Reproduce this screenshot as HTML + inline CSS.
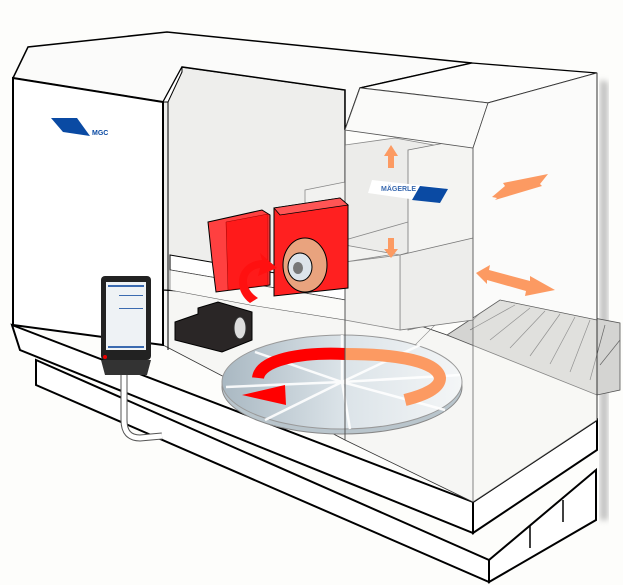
<!DOCTYPE html>
<html><head><meta charset="utf-8"><style>
html,body{margin:0;padding:0;background:#fdfdfb;}
svg{display:block}
text{font-family:"Liberation Sans",sans-serif;}
</style></head><body>
<svg width="623" height="585" viewBox="0 0 623 585" xmlns="http://www.w3.org/2000/svg">
<defs>
<linearGradient id="tt" x1="0" x2="1"><stop offset="0" stop-color="#a9b8c2"/><stop offset="0.5" stop-color="#dbe3e8"/><stop offset="1" stop-color="#f4f6f7"/></linearGradient>
<filter id="sh"><feGaussianBlur stdDeviation="3"/></filter>
</defs>
<rect width="623" height="585" fill="#fdfdfb"/>
<polygon points="600,80 608,82 608,520 600,520" fill="#999" filter="url(#sh)" opacity="0.6"/>
<polygon points="36,360 489,560 489,582 36,385" fill="#fff" stroke="#000" stroke-width="2"/>
<polygon points="489,560 596,470 596,520 489,582" fill="#fff" stroke="#000" stroke-width="2"/>
<line x1="530" y1="525" x2="530" y2="548" stroke="#000" stroke-width="1.5"/>
<line x1="563" y1="500" x2="563" y2="522" stroke="#000" stroke-width="1.5"/>
<polygon points="12,325 473,502 473,533 20,350" fill="#fff" stroke="#000" stroke-width="2"/>
<polygon points="473,502 597,420 597,450 473,533" fill="#fff" stroke="#000" stroke-width="2"/>
<polygon points="163,345 345,440 473,502 597,420 597,390 447,335 345,300 163,290" fill="#f6f6f4" stroke="#333" stroke-width="0.8"/>
<line x1="345" y1="415" x2="470" y2="290" stroke="#888" stroke-width="0.6"/>
<polygon points="447,335 500,300 620,323 620,390 597,395" fill="#d4d4d2" stroke="#555" stroke-width="0.8"/>
<g stroke="#666" stroke-width="0.7">
<line x1="470" y1="330" x2="515" y2="305"/><line x1="490" y1="340" x2="530" y2="308"/><line x1="510" y1="348" x2="545" y2="311"/><line x1="530" y1="356" x2="560" y2="314"/><line x1="550" y1="364" x2="575" y2="317"/><line x1="570" y1="372" x2="590" y2="320"/><line x1="590" y1="380" x2="605" y2="325"/><line x1="600" y1="365" x2="620" y2="340"/>
</g>
<polygon points="163,102 182,67 345,90 345,300 163,290" fill="#eeeeec" stroke="#000" stroke-width="1.2"/>
<polygon points="170,255 345,285 345,300 170,270" fill="#fff" stroke="#000" stroke-width="1"/>
<polygon points="170,270 345,300 345,320 250,305 170,290" fill="#fafaf8" stroke="#555" stroke-width="0.6"/>
<polygon points="13,78 28,47 167,32 472,63 360,88 345,130 345,90 182,67 163,102" fill="#fbfbfa" stroke="#000" stroke-width="1.5"/>
<polygon points="13,78 163,102 163,345 13,325" fill="#fff" stroke="#000" stroke-width="2"/>
<polygon points="163,102 182,67 182,72 168,102" fill="#fff" stroke="#000" stroke-width="1"/>
<line x1="168" y1="102" x2="168" y2="350" stroke="#000" stroke-width="1"/>
<polygon points="51,118 77,118 90,136 63,132" fill="#0a4aa3"/>
<text x="92" y="135" font-size="7" font-weight="bold" fill="#0a4aa3">MGC</text>
<polygon points="305,190 345,182 420,190 420,250 345,262 305,255" fill="#f2f2f0" stroke="#888" stroke-width="0.8"/>
<polygon points="345,145 395,138 450,148 450,240 400,255 345,245" fill="#ececea" stroke="#888" stroke-width="0.8"/>
<polygon points="408,150 450,142 473,148 473,315 408,330" fill="#f4f4f2" stroke="#777" stroke-width="0.8"/>
<polygon points="400,255 473,238 498,220 498,295 473,320 400,330" fill="#ededeb" stroke="#777" stroke-width="0.8"/>
<polygon points="345,262 400,255 400,330 345,320" fill="#f0f0ee" stroke="#888" stroke-width="0.8"/>
<line x1="345" y1="240" x2="408" y2="222" stroke="#888" stroke-width="0.8"/>
<polygon points="372,180 445,188 438,203 368,193" fill="#fff"/>
<polygon points="420,186 448,189 440,203 412,200" fill="#0a4aa3"/>
<text x="381" y="191" font-size="7" fill="#3a6ab0" font-weight="bold">MÄGERLE</text>
<polygon points="360,88 472,63 597,73 488,103" fill="#fdfdfc" stroke="#000" stroke-width="1.3"/>
<polygon points="345,130 360,88 488,103 473,148" fill="#fafaf9" stroke="#555" stroke-width="0.8"/>
<polygon points="488,103 597,73 597,320 500,300 473,318 473,148" fill="#fbfbfa" stroke="#444" stroke-width="0.8"/>
<polygon points="473,318 500,300 597,320 597,420 473,502" fill="#fbfbfa" fill-opacity="0.3"/>
<line x1="597" y1="73" x2="597" y2="420" stroke="#333" stroke-width="1"/>
<line x1="345" y1="130" x2="345" y2="440" stroke="#555" stroke-width="1"/>
<line x1="473" y1="148" x2="473" y2="502" stroke="#666" stroke-width="0.8"/>
<g fill="#fc9a62">
<polygon points="391,145 398,156 394,156 394,168 388,168 388,156 384,156"/>
<polygon points="388,238 394,238 394,249 398,249 391,258 384,249 388,249"/>
<polygon points="492,197 505,186 503,183 548,174 540,184 542,186 495,200 497,198"/>
<polygon points="476,273 490,265 489,270 530,281 530,276 555,290 525,296 526,291 487,280 487,284"/>
</g>
<polygon points="208,222 262,210 270,215 270,285 216,292 212,260" fill="#ff4040" stroke="#000" stroke-width="1"/>
<polygon points="226,222 268,214 268,285 228,290" fill="#ff1a1a" stroke="#900" stroke-width="0.5"/>
<polygon points="274,208 340,198 348,205 348,288 274,296" fill="#ff2020" stroke="#000" stroke-width="1"/>
<polygon points="274,208 340,198 348,205 280,215" fill="#ff5555" stroke="#000" stroke-width="0.8"/>
<ellipse cx="305" cy="265" rx="22" ry="27" fill="#e9a37e" stroke="#000" stroke-width="1"/>
<ellipse cx="300" cy="267" rx="12" ry="14" fill="#dde4ea" stroke="#000" stroke-width="1"/>
<ellipse cx="298" cy="268" rx="5" ry="6" fill="#777"/>
<path d="M250,303 C232,290 236,262 262,260 L260,253 L277,268 L258,276 L260,268 C244,270 242,288 258,298 Z" fill="#ff1010"/>
<polygon points="175,322 198,314 198,308 218,302 252,312 252,340 222,352 175,340" fill="#2a2626" stroke="#000" stroke-width="1"/>
<ellipse cx="240" cy="328" rx="6" ry="11" fill="#ddd" stroke="#333"/>
<ellipse cx="342" cy="387" rx="120" ry="47" fill="#b9c5cc" stroke="#888"/>
<ellipse cx="342" cy="382" rx="120" ry="47" fill="url(#tt)" stroke="#999"/>
<g stroke="#fff" stroke-width="2.5" opacity="0.9">
<line x1="342" y1="382" x2="342" y2="335"/><line x1="342" y1="382" x2="255" y2="352"/><line x1="342" y1="382" x2="226" y2="387"/><line x1="342" y1="382" x2="265" y2="420"/><line x1="342" y1="382" x2="350" y2="429"/><line x1="342" y1="382" x2="445" y2="410"/><line x1="342" y1="382" x2="460" y2="375"/><line x1="342" y1="382" x2="420" y2="345"/>
</g>
<path d="M345,354 C300,352 260,360 258,378" fill="none" stroke="#ff0000" stroke-width="12"/>
<polygon points="242,395 285,385 286,405" fill="#ff0000"/>
<path d="M345,354 C400,354 438,362 440,378 C440,388 425,395 405,400" fill="none" stroke="#fc9a62" stroke-width="12"/>
<line x1="345" y1="330" x2="345" y2="440" stroke="#555" stroke-width="1"/>
<path d="M124,375 L124,420 Q124,438 140,438 L162,436" fill="none" stroke="#555" stroke-width="7"/>
<path d="M124,375 L124,420 Q124,438 140,438 L162,436" fill="none" stroke="#fff" stroke-width="5"/>
<rect x="101" y="276" width="50" height="84" rx="4" fill="#222"/>
<rect x="106" y="282" width="40" height="68" fill="#eef2f5"/>
<g fill="#3a6ab0"><rect x="108" y="285" width="36" height="2"/><rect x="119" y="295" width="24" height="1"/><rect x="119" y="308" width="24" height="1"/><rect x="108" y="346" width="36" height="2"/></g>
<polygon points="101,360 151,360 147,375 105,375" fill="#333"/>
<circle cx="105" cy="357" r="2" fill="#e00"/>
</svg>
</body></html>
